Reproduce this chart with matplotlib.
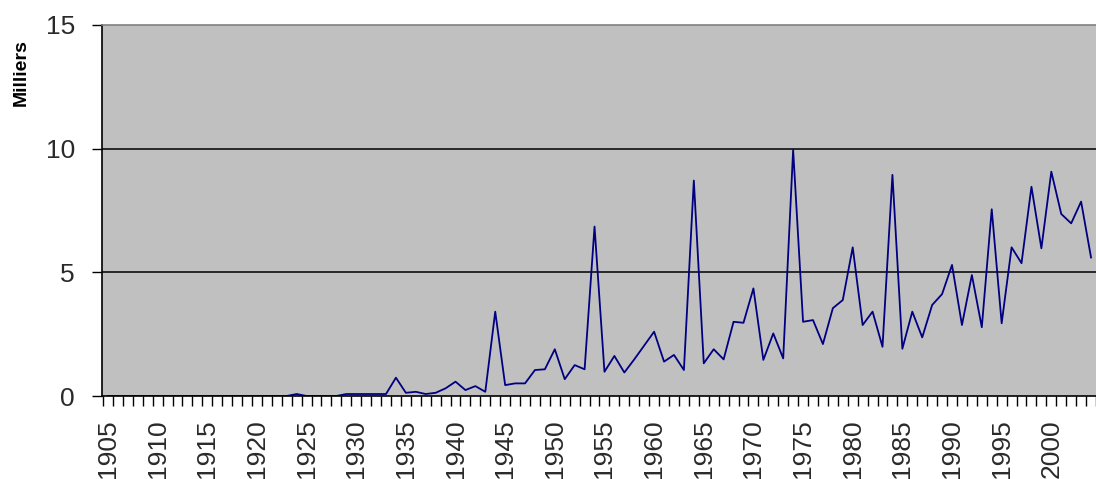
import matplotlib
matplotlib.use('Agg')
import matplotlib.pyplot as plt
import numpy as np

# --- data (thousands per year, 1905-2004)
years = list(range(1905, 2005))
values = ([0.0] * 19 + [0.08] + [0.0] * 4 + [0.08] * 5 +
          [0.74, 0.13, 0.17, 0.08, 0.13, 0.31, 0.58, 0.24, 0.40, 0.17,   # 1934-1943
           3.41, 0.44, 0.51, 0.51, 1.05, 1.08, 1.89, 0.68, 1.25, 1.08,   # 1944-1953
           6.85, 0.98, 1.62, 0.95, 1.48, 2.04, 2.60, 1.39, 1.66, 1.05,   # 1954-1963
           8.71, 1.32, 1.89, 1.48, 3.00, 2.96, 4.35, 1.46, 2.53, 1.52,   # 1964-1973
           9.95, 3.00, 3.07, 2.10, 3.55, 3.88, 6.01, 2.87, 3.41, 1.99,   # 1974-1983
           8.94, 1.91, 3.41, 2.37, 3.68, 4.12, 5.30, 2.87, 4.89, 2.78,   # 1984-1993
           7.55, 2.94, 6.01, 5.37, 8.46, 5.97, 9.07, 7.36, 6.98, 7.86,   # 1994-2003
           5.6])                                                         # 2004
y_ticks = [0, 5, 10, 15]
x_labels = [str(y) for y in years if y % 5 == 0]

plt.rcParams['font.family'] = ['Liberation Sans', 'DejaVu Sans']

fig = plt.figure(figsize=(10.96, 4.79), dpi=100)
ax = fig.add_axes([102 / 1096, 83 / 479, 994 / 1096, 371 / 479])
ax.set_facecolor('#c0c0c0')

pos = np.arange(len(years))
for t in y_ticks[1:-1]:
    ax.axhline(t, color='black', lw=1.1, zorder=1)
ax.plot(pos, values, color='#000080', lw=1.3, zorder=2)

# the right end of the chart is cut off by the picture edge (10 px per year)
ax.set_xlim(-0.6, 98.8)
ax.set_ylim(0, 15)

# y axis
ax.set_yticks(y_ticks)
ax.set_yticklabels([str(t) for t in y_ticks], fontsize=19, color='#2a2a2a')
ax.tick_params(axis='y', direction='out', length=7.5, width=1, pad=12)

# x axis: tick marks between categories, labels every 5 years
ax.set_xticks(np.arange(len(years) + 1) - 0.5)
ax.set_xticklabels([])
ax.tick_params(axis='x', which='major', direction='out', length=7.5, width=1)
ax.set_xticks([i for i, y in enumerate(years) if y % 5 == 0], minor=True)
ax.set_xticklabels(x_labels, minor=True, rotation=90, fontsize=19, color='#2a2a2a')
ax.tick_params(axis='x', which='minor', length=0, pad=17)

for s in ['left', 'bottom']:
    ax.spines[s].set_color('black')
    ax.spines[s].set_linewidth(1.2)
ax.spines['right'].set_visible(False)
ax.spines['top'].set_color('#808080')
ax.spines['top'].set_linewidth(1.2)

fig.text(21 / 1096, 1 - 73 / 479, 'Milliers', rotation=90, fontsize=14,
         fontweight='bold', ha='center', va='center')

fig.savefig('out.png', dpi=100)
print("Done")
